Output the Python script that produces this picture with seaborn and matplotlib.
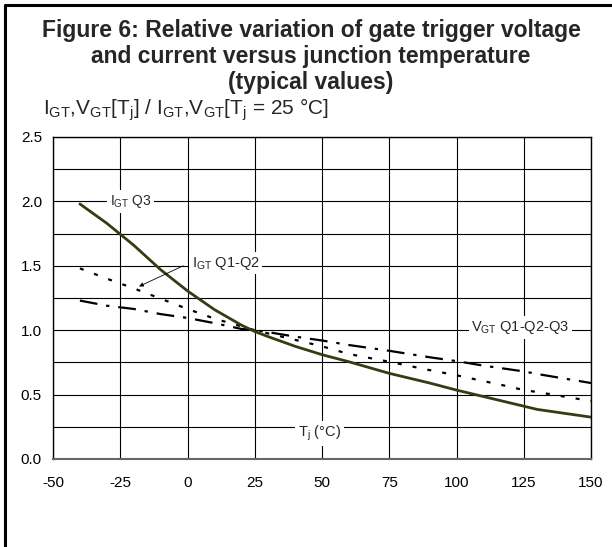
import numpy as np
import pandas as pd
import matplotlib
matplotlib.use("Agg")
import matplotlib.pyplot as plt
from matplotlib.lines import Line2D
import seaborn as sns

# ---- data ----
tj = [-40, -30, -20, -10, 0, 10, 20, 25, 30, 40, 50, 60, 75, 90, 100, 110, 120, 125, 130, 140, 150]
igt_q3 = [1.98, 1.83, 1.66, 1.47, 1.305, 1.16, 1.04, 0.99, 0.95, 0.875, 0.81, 0.755, 0.665, 0.59, 0.535, 0.485, 0.435, 0.41, 0.385, 0.355, 0.325]
igt_q12 = [1.48, 1.40, 1.325, 1.245, 1.165, 1.09, 1.03, 1.0, 0.975, 0.925, 0.875, 0.815, 0.755, 0.69, 0.65, 0.605, 0.56, 0.535, 0.52, 0.485, 0.45]
vgt = [1.23, 1.19, 1.165, 1.125, 1.095, 1.055, 1.01, 1.0, 0.985, 0.95, 0.92, 0.885, 0.84, 0.79, 0.76, 0.725, 0.695, 0.68, 0.66, 0.625, 0.59]

x_ticks = [-50, -25, 0, 25, 50, 75, 100, 125, 150]
y_ticks = [0.0, 0.5, 1.0, 1.5, 2.0, 2.5]
y_grid = [0.25, 0.75, 1.25, 1.75, 2.25]

sns.set_theme(style="white")
plt.rcParams["font.family"] = ["Liberation Sans", "DejaVu Sans"]
plt.rcParams["mathtext.fontset"] = "custom"
plt.rcParams["mathtext.rm"] = "Liberation Sans"
plt.rcParams["mathtext.it"] = "Liberation Sans:italic"
plt.rcParams["mathtext.bf"] = "Liberation Sans:bold"

fig = plt.figure(figsize=(6.12, 5.47), dpi=100)
ax = fig.add_axes([53 / 612, 1 - 459 / 547, (591 - 53) / 612, (459 - 137) / 547])

df_v = pd.DataFrame({"Tj": tj, "val": vgt})
df_q12 = pd.DataFrame({"Tj": tj, "val": igt_q12})
df_q3 = pd.DataFrame({"Tj": tj, "val": igt_q3})

sns.lineplot(data=df_v, x="Tj", y="val", ax=ax, color="black", lw=1.6,
             linestyle=(0, (8, 4, 1.5, 4)), zorder=3)
sns.lineplot(data=df_q12, x="Tj", y="val", ax=ax, color="black", lw=1.6,
             linestyle=(0, (1.8, 5)), zorder=3)
sns.lineplot(data=df_q3, x="Tj", y="val", ax=ax, color="#3a3a12", lw=2.0,
             linestyle="-", zorder=4)

ax.set_xlim(-50, 150)
ax.set_ylim(0, 2.5)
ax.set_xticks(x_ticks)
ax.set_xticklabels([str(v) for v in x_ticks])
ax.set_yticks(y_ticks)
ax.set_yticklabels([f"{v:.1f}" for v in y_ticks])
ax.set_yticks(y_grid, minor=True)
ax.grid(True, which="both", color="black", lw=0.8)
ax.tick_params(axis="both", which="both", length=0, labelsize=11, colors="black")
ax.tick_params(axis="x", pad=12)
ax.tick_params(axis="y", pad=8)
ax.set_xlabel("")
ax.set_ylabel("")
for s in ax.spines.values():
    s.set_visible(True)
    s.set_color("black")
    s.set_linewidth(1.0)
ax.spines["bottom"].set_color("#666666")
ax.spines["bottom"].set_linewidth(1.5)

box = dict(facecolor="white", edgecolor="none", pad=2)
ax.text(-28.8, 2.0, r"$\mathrm{I_{GT}}$ Q3", fontsize=10, ha="left", va="center", bbox=box, zorder=5)
ax.text(1.5, 1.52, r"$\mathrm{I_{GT}}$ Q1-Q2", fontsize=10.5, ha="left", va="center", bbox=box, zorder=5)
ax.text(105.5, 1.02, r"$\mathrm{V_{GT}}$ Q1-Q2-Q3", fontsize=10.5, ha="left", va="center", bbox=box, zorder=5)
ax.text(41, 0.2, r"$\mathrm{T_j}$ (°C)", fontsize=10.5, ha="left", va="center", bbox=box, zorder=5)
ax.annotate("", xy=(-18, 1.34), xytext=(-1.6, 1.5),
            arrowprops=dict(arrowstyle="-|>", color="black", lw=0.6, mutation_scale=6, shrinkA=0, shrinkB=0),
            zorder=5)

fig.text(311 / 612, 1 - 30 / 547, "Figure 6: Relative variation of gate trigger voltage",
         fontsize=16.5, fontweight="bold", ha="center", va="center")
fig.text(311 / 612, 1 - 56 / 547, "and current versus junction temperature",
         fontsize=16.5, fontweight="bold", ha="center", va="center")
fig.text(311 / 612, 1 - 82 / 547, "(typical values)",
         fontsize=16.5, fontweight="bold", ha="center", va="center")
fig.text(43 / 612, 1 - 110 / 547,
         r"$\mathrm{I_{GT}}$,$\mathrm{V_{GT}}$[$\mathrm{T_j}$] / $\mathrm{I_{GT}}$,$\mathrm{V_{GT}}$[$\mathrm{T_j}$ = 25 °C]",
         fontsize=15, ha="left", va="center")

# outer frame (left and top edges)
fig.add_artist(Line2D([4.5 / 612, 4.5 / 612], [0, 1 - 4.5 / 547], transform=fig.transFigure, color="black", lw=2.2))
fig.add_artist(Line2D([4.5 / 612, 1], [1 - 4.5 / 547, 1 - 4.5 / 547], transform=fig.transFigure, color="black", lw=2.2))

fig.savefig("out.png", dpi=100)
